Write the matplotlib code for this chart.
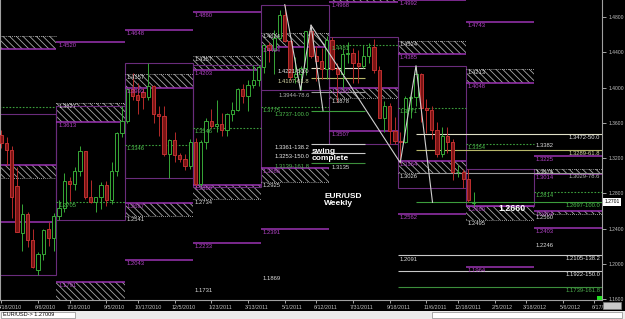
import matplotlib.pyplot as plt
import matplotlib.transforms as mtransforms
from matplotlib.patches import Rectangle
import numpy as np
import pandas as pd

# ---- weekly EUR/USD candles, first bar = week of 4/4/2010 ----
base_week = pd.Timestamp('2010-04-18')
first_bar = pd.Timestamp('2010-04-04')

opens = [1.3360, 1.3480,
         1.3465, 1.3370, 1.3290, 1.2880, 1.2350, 1.2570, 1.2270, 1.1930, 1.2112, 1.2400,
         1.2290, 1.2540, 1.2637, 1.2940, 1.2906, 1.3050, 1.3278, 1.2752, 1.2700, 1.2760,
         1.2894, 1.2720, 1.3056, 1.3486, 1.3620, 1.3980, 1.3920, 1.3950, 1.3890, 1.4020,
         1.3697, 1.3676, 1.3245, 1.3407, 1.3235, 1.3190, 1.3110, 1.3384, 1.2904, 1.3382,
         1.3618, 1.3560, 1.3585, 1.3520, 1.3695, 1.3750, 1.3987, 1.3900, 1.4032, 1.4090,
         1.4233, 1.4479, 1.4430, 1.4564, 1.4818, 1.4530, 1.4117, 1.4157, 1.4223, 1.4638,
         1.4361, 1.4301, 1.4211, 1.4534, 1.4209, 1.4151, 1.4380, 1.4393, 1.4280, 1.4245,
         1.4360, 1.4460, 1.4200, 1.3651, 1.3793, 1.3505, 1.3390, 1.3380, 1.3880, 1.3896,
         1.4150, 1.3773, 1.3742, 1.3520, 1.3240, 1.3450, 1.3383, 1.3040, 1.3045, 1.2960,
         1.2690]
highs = [1.3550, 1.3694,
         1.3520, 1.3440, 1.3340, 1.3094, 1.2675, 1.2590, 1.2390, 1.2135, 1.2400, 1.2470,
         1.2580, 1.2720, 1.3028, 1.2990, 1.3100, 1.3333, 1.3280, 1.2950, 1.2760, 1.2923,
         1.2940, 1.3158, 1.3500, 1.3795, 1.3995, 1.4160, 1.4050, 1.4000, 1.4282, 1.4030,
         1.3785, 1.3790, 1.3420, 1.3500, 1.3260, 1.3240, 1.3420, 1.3430, 1.3400, 1.3650,
         1.3760, 1.3860, 1.3710, 1.3710, 1.3830, 1.4000, 1.4040, 1.4084, 1.4250, 1.4250,
         1.4485, 1.4520, 1.4650, 1.4880, 1.4940, 1.4540, 1.4345, 1.4240, 1.4640, 1.4707,
         1.4470, 1.4445, 1.4580, 1.4578, 1.4280, 1.4440, 1.4520, 1.4450, 1.4430, 1.4480,
         1.4500, 1.4550, 1.4240, 1.3850, 1.3820, 1.3670, 1.3500, 1.3900, 1.3920, 1.4247,
         1.4160, 1.3870, 1.3790, 1.3610, 1.3550, 1.3550, 1.3420, 1.3120, 1.3080, 1.3080,
         1.2810]
lows = [1.3300, 1.3440,
        1.3310, 1.3115, 1.2523, 1.2355, 1.2143, 1.2187, 1.1955, 1.1876, 1.2045, 1.2200,
        1.2150, 1.2493, 1.2590, 1.2710, 1.2840, 1.3000, 1.2740, 1.2690, 1.2588, 1.2620,
        1.2660, 1.2680, 1.3000, 1.3440, 1.3600, 1.3860, 1.3700, 1.3760, 1.3860, 1.3600,
        1.3450, 1.3220, 1.2968, 1.3160, 1.3150, 1.3060, 1.3070, 1.2872, 1.2873, 1.3300,
        1.3540, 1.3500, 1.3450, 1.3450, 1.3620, 1.3730, 1.3820, 1.3735, 1.4000, 1.4020,
        1.4160, 1.4290, 1.4150, 1.4550, 1.4520, 1.4080, 1.4050, 1.3968, 1.4140, 1.4330,
        1.4070, 1.4100, 1.4100, 1.4200, 1.3837, 1.4000, 1.4280, 1.4050, 1.4050, 1.4220,
        1.4280, 1.4170, 1.3650, 1.3495, 1.3360, 1.3360, 1.3146, 1.3370, 1.3650, 1.3790,
        1.3610, 1.3485, 1.3420, 1.3212, 1.3210, 1.3260, 1.2945, 1.2980, 1.2860, 1.2700,
        1.2660]
closes = [1.3480, 1.3465,
          1.3370, 1.3290, 1.2755, 1.2360, 1.2570, 1.2270, 1.1967, 1.2112, 1.2387, 1.2290,
          1.2540, 1.2637, 1.2940, 1.2906, 1.3050, 1.3278, 1.2752, 1.2701, 1.2760, 1.2894,
          1.2722, 1.3056, 1.3486, 1.3620, 1.3980, 1.3900, 1.3860, 1.3890, 1.4020, 1.3697,
          1.3676, 1.3245, 1.3407, 1.3235, 1.3190, 1.3110, 1.3384, 1.2904, 1.3382, 1.3618,
          1.3560, 1.3585, 1.3520, 1.3695, 1.3750, 1.3987, 1.3900, 1.4032, 1.4090, 1.4233,
          1.4479, 1.4430, 1.4564, 1.4818, 1.4530, 1.4117, 1.4157, 1.4223, 1.4638, 1.4361,
          1.4301, 1.4211, 1.4534, 1.4209, 1.4151, 1.4380, 1.4393, 1.4280, 1.4245, 1.4360,
          1.4460, 1.4200, 1.3651, 1.3793, 1.3505, 1.3390, 1.3380, 1.3880, 1.3896, 1.4150,
          1.3773, 1.3742, 1.3520, 1.3240, 1.3450, 1.3383, 1.3040, 1.3045, 1.2960, 1.2720,
          1.2701]

# ---- quarterly pivot levels ----
quarter_dates = ['2010-04-01', '2010-07-01', '2010-10-01', '2011-01-01', '2011-04-01',
                 '2011-07-01', '2011-10-01', '2012-01-01', '2012-04-01']
pivot = [1.3780, 1.2705, 1.3346, 1.3546, 1.3775, 1.4481, 1.3771, 1.3354, 1.2814]
r_half = [1.4440, 1.3613, 1.3993, 1.4203, 1.4464, 1.4968, 1.4385, 1.4048, 1.3014]
r_618 = [1.4590, 1.3827, 1.4157, 1.4357, 1.4624, 1.5090, 1.4524, 1.4213, 1.3074]
r_full = [1.5100, 1.4520, 1.4648, 1.4860, 1.5150, 1.5450, 1.4992, 1.4743, 1.3225]
r_1382 = [1.5600, 1.5220, 1.5145, 1.5360, 1.5680, 1.5830, 1.5457, 1.5270, 1.3382]
s_half = [1.3125, 1.1791, 1.2687, 1.2889, 1.3086, 1.3995, 1.3164, 1.2660, 1.2604]
s_618 = [1.2970, 1.1581, 1.2541, 1.2734, 1.2925, 1.3878, 1.3026, 1.2495, 1.2560]
s_full = [1.2470, 1.0887, 1.2043, 1.2233, 1.2391, 1.3507, 1.2562, 1.1964, 1.2403]
s_1382 = [1.1970, 1.0190, 1.1547, 1.1731, 1.1869, 1.3135, 1.2091, 1.1439, 1.2246]

# ---- swing lines and fib expansions ----
swing1_dates = ['2011-05-01', '2011-05-22', '2011-06-05', '2011-06-21']
swing1_prices = [1.4940, 1.3970, 1.4707, 1.3737]
swing2_dates = ['2011-06-05', '2011-10-02', '2011-10-23', '2011-11-14']
swing2_prices = [1.4707, 1.3146, 1.4247, 1.2697]
fib_ratios = ['50.0', '61.8', '78.6', '100.0', '138.2', '150.0', '161.8']
fib1_levels = [1.4221, 1.4107, 1.3944, 1.3737, 1.3361, 1.3253, 1.3139]
fib2_levels = [1.3472, 1.3289, 1.3029, 1.2697, 1.2105, 1.1922, 1.1739]

date_labels = ['4/18/2010', '6/6/2010', '7/18/2010', '9/5/2010', '10/17/2010', '12/5/2010',
               '1/23/2011', '3/13/2011', '5/1/2011', '6/12/2011', '7/31/2011', '9/18/2011',
               '11/6/2011', '12/18/2011', '2/5/2012', '3/18/2012', '5/6/2012', '6/17/2012']
price_ticks = [1.16, 1.20, 1.24, 1.28, 1.32, 1.36, 1.40, 1.44, 1.48]
last_price = 1.2701


def week_pos(d):
    return (pd.Timestamp(d) - base_week).days / 7


plt.rcParams['font.family'] = ['Liberation Sans', 'DejaVu Sans']
plt.rcParams['hatch.linewidth'] = 0.6

fig = plt.figure(figsize=(6.25, 3.19), dpi=100, facecolor='black')
ax = fig.add_axes([0, 19 / 319, 602 / 625, 300 / 319], facecolor='black')
XMIN, XMAX = -0.24, 114.43
YMIN, YMAX = 1.15887, 1.49929
ax.set_xlim(XMIN, XMAX)
ax.set_ylim(YMIN, YMAX)

below = ax.transData + mtransforms.ScaledTranslation(0, -1 / 100, fig.dpi_scale_trans)

purple = '#9c33b4'
purple_txt = '#b445c8'
box_purple = '#6a2c7c'
green = '#3c9e3c'
white_txt = '#dcdcdc'
FS = 4.2


def level_label(x, lev, color):
    # label sits just under its line; skip the ones that fall outside the chart
    if x > XMIN and YMIN + 0.006 < lev < YMAX:
        ax.text(x, lev, f'{lev:.4f}', color=color, fontsize=FS, va='top',
                transform=below, clip_on=True, zorder=5)


# quarters
q_start = [np.ceil(week_pos(d)) - 0.5 for d in quarter_dates]
bar_x = np.arange(len(opens)) + week_pos(first_bar)
o, h, l, c = map(np.array, (opens, highs, lows, closes))

for i, qs in enumerate(q_start):
    qe = qs + 13
    lx = qs + 0.35
    # hatched zones
    for top, bot in [(r_618[i], r_half[i]), (s_half[i], s_618[i])]:
        ax.add_patch(Rectangle((qs, bot), 13, top - bot, facecolor='none', edgecolor='#a9a9a9',
                               hatch='\\' * 5, linewidth=0, zorder=1))
    # quarter range box from the candles
    inq = (bar_x > qs) & (bar_x < qe)
    if inq.any():
        hi, lo = h[inq].max(), l[inq].min()
        ax.add_patch(Rectangle((qs, lo), 13, hi - lo, fill=False, edgecolor=box_purple,
                               linewidth=0.8, zorder=2))
    for lev in (r_full[i], r_half[i], s_half[i], s_full[i]):
        ax.hlines(lev, qs, qe, colors=purple, linewidth=1.1, zorder=2)
        level_label(lx, lev, purple_txt)
    for lev in (r_618[i], s_618[i]):
        ax.hlines(lev, qs, qe, colors='#c8c8c8', linewidth=0.6, linestyles=(0, (1, 1.5)), zorder=2)
    for lev in (r_618[i], s_618[i], r_1382[i], s_1382[i]):
        level_label(lx, lev, white_txt)
    ax.hlines(pivot[i], qs, qe, colors=green, linewidth=0.8, linestyles=(0, (1.5, 1.5)), zorder=2)
    level_label(lx, pivot[i], '#4fc04f')

# candles
up = c >= o
ax.vlines(bar_x[up], l[up], h[up], colors='#37a837', linewidth=0.7, zorder=3)
ax.vlines(bar_x[~up], l[~up], h[~up], colors='#b52a2a', linewidth=0.7, zorder=3)
body = np.maximum(np.abs(c - o), 0.0006)
ax.bar(bar_x[up], body[up], bottom=np.minimum(o, c)[up], width=0.6, facecolor='black',
       edgecolor='#37a837', linewidth=0.7, zorder=3.5)
ax.bar(bar_x[~up], body[~up], bottom=np.minimum(o, c)[~up], width=0.6, facecolor='#7a1414',
       edgecolor='#c03030', linewidth=0.7, zorder=3.5)

# fib expansions
fib_line_cols = ['#e0e0c8', '#b8b86a', '#9a9a9a', '#3c9e3c', '#c8c8c8', '#c8c8c8', '#3c8f3c']
fib_txt_cols = ['#e8e8e8', '#d8d8a8', '#b0b0b0', '#4fc04f', '#e8e8e8', '#e8e8e8', '#4fb04f']
s1 = [week_pos(d) for d in swing1_dates]
s2 = [week_pos(d) for d in swing2_dates]
for k, (lev, rat) in enumerate(zip(fib1_levels, fib_ratios)):
    ax.hlines(lev, s1[2], s1[2] + 10.3, colors=fib_line_cols[k], linewidth=0.8, zorder=2.5)
    ax.text(s1[2] - 0.3, lev, f'{lev:.4f}-{rat}', color=fib_txt_cols[k], fontsize=FS,
            ha='right', va='top', transform=below, zorder=5)
for k, (lev, rat) in enumerate(zip(fib2_levels, fib_ratios)):
    x0 = s2[2] if k < 4 else 75.5
    ax.hlines(lev, x0, XMAX, colors=fib_line_cols[k], linewidth=0.8, zorder=2.5)
    ax.text(XMAX - 0.35, lev, f'{lev:.4f}-{rat}', color=fib_txt_cols[k], fontsize=FS,
            ha='right', va='top', transform=below, zorder=5)

ax.plot(s1, swing1_prices, color='#d0d0d0', linewidth=0.8, zorder=4)
ax.plot(s2, swing2_prices, color='#d0d0d0', linewidth=0.8, zorder=4)

# annotations
ax.text(59.2, 1.3310, 'swing\ncomplete', color='white', fontsize=6.0, fontweight='bold',
        va='top', linespacing=1.0, zorder=6)
ax.text(61.5, 1.2805, 'EUR/USD\nWeekly', color='white', fontsize=6.0, fontweight='bold',
        va='top', linespacing=1.05, zorder=6)
ax.text(97.3, 1.2622, '1.2660', color='white', fontsize=6.3, fontweight='bold',
        ha='center', va='center', zorder=6)

# axes styling
ax.yaxis.tick_right()
ax.set_yticks(price_ticks)
ax.set_yticklabels([f'{p:.4f}' for p in price_ticks])
ax.tick_params(axis='y', colors='#c0c0c0', labelsize=3.6, length=3, width=0.6, pad=2)
ax.set_xticks([week_pos(d) for d in date_labels])
ax.set_xticklabels(date_labels)
ax.tick_params(axis='x', colors='#c0c0c0', labelsize=3.9, length=2, width=0.6, pad=1.5)
shift = mtransforms.ScaledTranslation(-3 / 100, 0, fig.dpi_scale_trans)
for lab in ax.get_xticklabels():
    lab.set_ha('left')
    lab.set_transform(lab.get_transform() + shift)
for side in ('left', 'bottom', 'right'):
    ax.spines[side].set_color('#a0a0a0')
    ax.spines[side].set_linewidth(0.8)
ax.spines['top'].set_visible(False)

ax.text(1.004, last_price, f'{last_price:.4f}', transform=mtransforms.blended_transform_factory(
    ax.transAxes, ax.transData), fontsize=3.6, color='black', va='center', ha='left',
    bbox=dict(boxstyle='square,pad=0.3', facecolor='white', edgecolor='none'), clip_on=False)

# status bar and small widgets
fig.add_artist(Rectangle((0, 0), 1, 8 / 319, transform=fig.transFigure,
                         facecolor='#ebebeb', edgecolor='none'))
fig.add_artist(Rectangle((1 / 625, 1 / 319), 74 / 625, 6.5 / 319, transform=fig.transFigure,
                         facecolor='white', edgecolor='#8a8a8a', linewidth=0.5))
fig.add_artist(Rectangle((432 / 625, 1 / 319), 190 / 625, 6.5 / 319, transform=fig.transFigure,
                         facecolor='white', edgecolor='#8a8a8a', linewidth=0.5))
fig.text(3 / 625, 4.3 / 319, 'EUR/USD-> 1.27009', fontsize=4.0, color='black', va='center')
fig.add_artist(Rectangle((597 / 625, 1 - 300 / 319), 5 / 625, 4 / 319, transform=fig.transFigure,
                         facecolor='#22dd22', edgecolor='none'))
fig.add_artist(Rectangle((603 / 625, 1 - 309 / 319), 18 / 625, 7 / 319, transform=fig.transFigure,
                         facecolor='#c8c8c8', edgecolor='#7a7a7a', linewidth=0.5))

plt.savefig('out.png', dpi=100, facecolor='black')
